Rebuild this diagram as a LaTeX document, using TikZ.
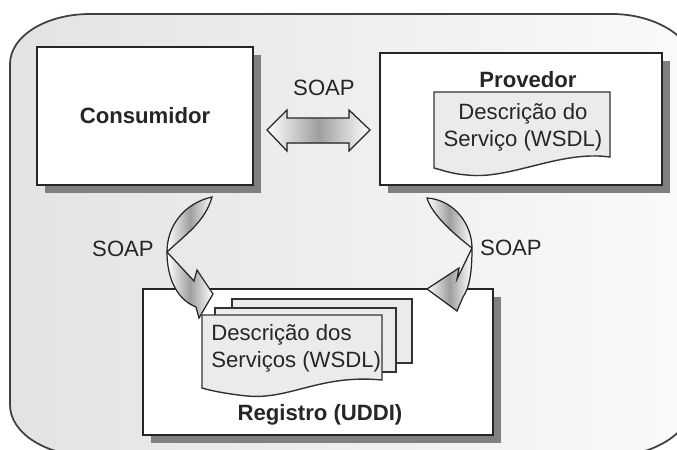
\documentclass[tikz,border=0pt]{standalone}
\usepackage{fontspec}
\setmainfont{Liberation Sans}
\usetikzlibrary{shadows}

\tikzset{
  texto/.style={font=\fontsize{12.6}{15.5}\selectfont, text=black!85, inner sep=0pt},
  caixa/.style={draw=black!85, line width=1pt, fill=white,
    drop shadow={shadow xshift=.16cm, shadow yshift=-.16cm, fill=black!50, opacity=1}},
  folha/.style={draw=black!80, line width=.8pt, fill=black!8},
  seta/.style={draw=black!85, line width=.7pt, left color=white, right color=white, middle color=black!38},
}

\begin{document}
\begin{tikzpicture}[x=0.02cm, y=-0.02cm]
  \useasboundingbox (0,0) rectangle (677,450);
  \clip (0,0) rectangle (677,450);

  % fundo arredondado
  \filldraw[draw=black!75, line width=1pt, left color=black!11, right color=black!2]
    (10,64) .. controls (10,36) and (46,14) .. (90,14) -- (612,14)
    .. controls (656,14) and (694,38) .. (694,66) -- (694,400)
    .. controls (694,430) and (656,456) .. (612,456) -- (90,456)
    .. controls (46,456) and (10,433) .. (10,405) -- cycle;

  % caixas
  \node[caixa, minimum width=4.32cm, minimum height=2.76cm] (consumidor) at (145,116) {};
  \node[texto, font=\fontsize{12.6}{15.5}\selectfont\bfseries] (nomecons) at (consumidor.center) {Consumidor};

  \node[caixa, minimum width=5.64cm, minimum height=2.64cm] (provedor) at (521,119) {};
  \node[texto, font=\fontsize{12.6}{15.5}\selectfont\bfseries] (nomeprov) at (528,80) {Provedor};

  \node[caixa, minimum width=7cm, minimum height=2.92cm] (registro) at (318,362) {};
  \node[texto, font=\fontsize{12.6}{15.5}\selectfont\bfseries] (nomereg) at (320,415) {Registro (UDDI)};

  % descricao do servico
  \filldraw[folha] (434,92) -- (610,92) -- (610,157)
    .. controls (560,150) and (510,180) .. (467,175)
    .. controls (452,174) and (442,170) .. (434,168) -- cycle;
  \node[texto, align=center] (wsdlprov) at (523,127) {Descrição do\\Serviço (WSDL)};

  % descricao dos servicos (pilha)
  \filldraw[folha] (232,299) rectangle (412,363);
  \filldraw[folha] (215,308) rectangle (396,372);
  \filldraw[folha] (202,315) -- (382,315) -- (382,380)
    .. controls (320,374) and (290,400) .. (247,396)
    .. controls (228,394) and (212,391) .. (202,388) -- cycle;
  \node[texto, align=left, anchor=west] (wsdlreg) at (211,348) {Descrição dos\\Serviços (WSDL)};

  % setas SOAP
  \filldraw[seta] (267,130) -- (287,110) -- (287,118) -- (349,118) -- (349,110) -- (370,130)
    -- (349,151) -- (349,143) -- (287,143) -- (287,151) -- cycle;
  \node[texto] (soaptopo) at (324,88) {SOAP};

  \filldraw[seta] (212,197) .. controls (185,203) and (167,225) .. (167,252)
    .. controls (167,280) and (178,300) .. (196,307) -- (199,318) -- (213,294)
    -- (197,270) -- (194,281) -- (167,252)
    .. controls (185,235) and (205,222) .. (212,197) -- cycle;
  \node[texto] (soapesq) at (123,249) {SOAP};

  \filldraw[seta] (427,198) .. controls (455,200) and (472,225) .. (472,248)
    .. controls (472,270) and (470,287) .. (463,297) -- (457,311) -- (427,289)
    -- (459,268) -- (457,279) -- (472,248)
    .. controls (455,235) and (432,215) .. (427,198) -- cycle;
  \node[texto] (soapdir) at (511,248) {SOAP};
\end{tikzpicture}
\end{document}
